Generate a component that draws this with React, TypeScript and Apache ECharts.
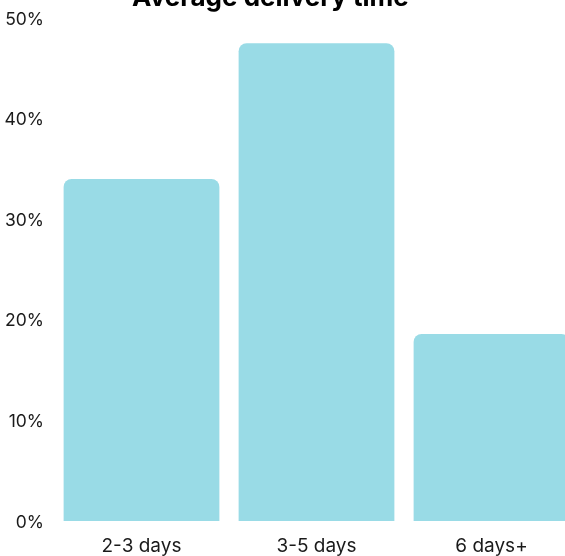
import React, { useEffect, useRef } from "react";
import * as echarts from "echarts";

const categories = ["2-3 days", "3-5 days", "6 days+"];
const values = [34, 47.5, 18.6];
const yTicks = [0, 10, 20, 30, 40, 50];

export default function App() {
  const ref = useRef<HTMLDivElement>(null);
  useEffect(() => {
    if (!ref.current) return;
    const chart = echarts.init(ref.current, null, { renderer: "svg" });
    chart.setOption({
      animation: false,
      textStyle: { fontFamily: "Inter" },
      title: {
        text: "Average delivery time",
        left: 127,
        top: -22,
        textStyle: { fontFamily: "Inter", fontWeight: "bold", fontSize: 26, color: "#000" },
      },
      grid: { left: 54, right: 0, top: 18, bottom: 35 },
      xAxis: {
        type: "category",
        data: categories,
        axisLine: { show: false },
        axisTick: { show: false },
        axisLabel: { fontSize: 19, color: "#1a1a1a", margin: 15, fontFamily: "Inter" },
      },
      yAxis: {
        type: "value",
        min: yTicks[0],
        max: yTicks[yTicks.length - 1],
        interval: 10,
        splitLine: { show: false },
        axisLine: { show: false },
        axisTick: { show: false },
        axisLabel: { fontSize: 17.5, color: "#1a1a1a", margin: 10, formatter: "{value}%", fontFamily: "Inter" },
      },
      series: [
        {
          type: "bar",
          data: values,
          barCategoryGap: "11%",
          itemStyle: { color: "#99dbe6", borderRadius: [8, 8, 0, 0] },
        },
      ],
    });
    return () => chart.dispose();
  }, []);
  return (
    <div
      ref={ref}
      style={{ position: "fixed", left: 0, top: 0, width: 579, height: 556 }}
    />
  );
}
